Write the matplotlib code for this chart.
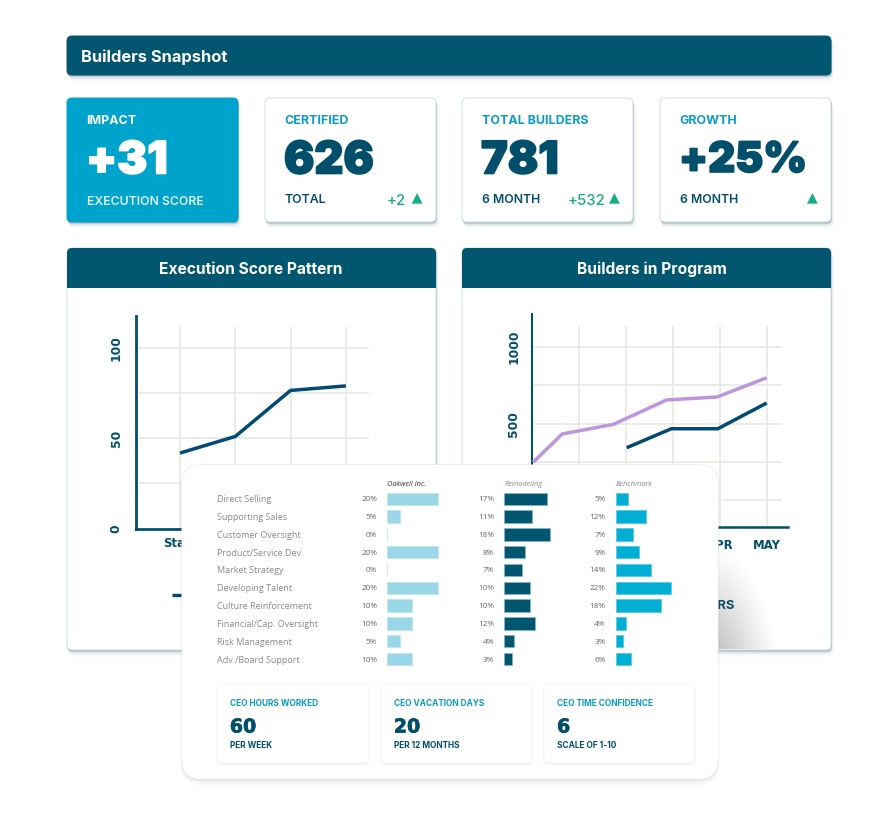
import numpy as np
import matplotlib
matplotlib.use("Agg")
import matplotlib.pyplot as plt
from matplotlib.patches import FancyBboxPatch, Rectangle, Polygon
import matplotlib.patheffects as pe

W, H = 888, 813
NAVY = "#02566F"; DARK = "#024F6B"; BLUE = "#00A3CC"; LABEL = "#0A9CC8"; GREEN = "#17AE85"
GRID = "#E9E9E3"; LINE = "#004A73"; PURPLE = "#BD95DF"; GREY = "#8A8A8A"
HEAD = "Inter"; NUM = "DejaVu Sans"

# ---------------- data ----------------
kpi_titles = ["IMPACT", "CERTIFIED", "TOTAL BUILDERS", "GROWTH"]
kpi_values = ["+31", "626", "781", "+25%"]
kpi_subs = ["EXECUTION SCORE", "TOTAL", "6 MONTH", "6 MONTH"]
kpi_deltas = ["", "+2", "+532", ""]

score_x = [0, 1, 2, 3]
score_labels = ["Start", "", "", ""]
score_values = [41.8, 51, 76.5, 79]

months_x = [1, 2, 3, 4, 5]
months = ["", "", "", "APR", "MAY"]
total_x = [0.03, 0.65, 1.74, 2.87, 3.94, 5.0]
total_values = [248, 433, 496, 655, 674, 800]
cert_x = [2.02, 2.97, 3.96, 5.0]
cert_values = [343, 467, 467, 635]

categories = ["Direct Selling", "Supporting Sales", "Customer Oversight", "Product/Service Dev.",
              "Market Strategy", "Developing Talent", "Culture Reinforcement",
              "Financial/Cap. Oversight", "Risk Management", "Adv./Board Support"]
oakwell = [20, 5, 0, 20, 0, 20, 10, 10, 5, 10]
remodeling = [17, 11, 18, 8, 7, 10, 10, 12, 4, 3]
benchmark = [5, 12, 7, 9, 14, 22, 18, 4, 3, 6]

ceo_titles = ["CEO HOURS WORKED", "CEO VACATION DAYS", "CEO TIME CONFIDENCE"]
ceo_values = ["60", "20", "6"]
ceo_subs = ["PER WEEK", "PER 12 MONTHS", "SCALE OF 1-10"]

# ---------------- helpers ----------------
fig = plt.figure(figsize=(W / 100, H / 100), dpi=100, facecolor="white")

def px_axes(x0, y0, x1, y1, z):
    ax = fig.add_axes([x0 / W, 1 - y1 / H, (x1 - x0) / W, (y1 - y0) / H], zorder=z)
    ax.patch.set_alpha(0)
    return ax

def overlay(z):
    ax = px_axes(0, 0, W, H, z)
    ax.set_xlim(0, W); ax.set_ylim(H, 0); ax.axis("off")
    return ax

def rrect(ax, x0, y0, x1, y1, r, fc, ec="none", lw=0, alpha=None, z=1):
    p = FancyBboxPatch((x0, y0), x1 - x0, y1 - y0, boxstyle=f"round,pad=0,rounding_size={r}",
                       fc=fc, ec=ec, lw=lw, alpha=alpha, zorder=z)
    ax.add_patch(p)
    return p

def card(ax, x0, y0, x1, y1, r=5, fc="white", ec="#CFE0E5", strong=True, z=1):
    if strong:
        for d, a in ((7, .025), (5, .04), (3.5, .07), (2.2, .16), (1.2, .30)):
            rrect(ax, x0 + d * .25, y0 + d, x1 + d * .45, y1 + d, r, "#3E6473", alpha=a, z=z)
    else:
        for d, a in ((3, .015), (2, .02), (1, .04)):
            rrect(ax, x0 - d * .3, y0 + d * .2, x1 + d * .3, y1 + d, r, "#404040", alpha=a, z=z)
    rrect(ax, x0, y0, x1, y1, r, fc, ec=ec, lw=.7, z=z + .1)

def tx(ax, x, y, s, size, color, ha="left", weight="bold", family=HEAD, style="normal", z=5, sp=0):
    t = ax.text(x, y, s, fontsize=size * .72, color=color, ha=ha, va="center_baseline", weight=weight,
                family=family, style=style, zorder=z)
    if sp:
        t.set_path_effects([pe.withStroke(linewidth=sp, foreground=color)])
    return t

# ---------------- base layer ----------------
base = overlay(0)
card(base, 67, 36, 831, 75, fc=NAVY, ec=NAVY)
tx(base, 80.5, 55.5, "Builders Snapshot", 16.5, "white")

xs = [(67, 238), (265, 436), (462, 633), (660, 831)]
tri_x = [None, 411.7, 609, 807]
delta_end = [None, 405.7, 605.5, None]
num_size = [45, 45, 45, 42]
for i, (x0, x1) in enumerate(xs):
    hot = i == 0
    card(base, x0, 98, x1, 222, fc=BLUE if hot else "white", ec=BLUE if hot else "#CFE0E5")
    tl = x0 + 20
    c1 = "white" if hot else LABEL
    c2 = "white" if hot else DARK
    tx(base, tl - .5, 119, kpi_titles[i], 12.4, c1)
    tx(base, tl - 1, 157, kpi_values[i], num_size[i], c2, family=HEAD, weight="black", sp=1.2)
    tx(base, tl - .5, 200.5 if hot else 198.7, kpi_subs[i], 12.3, "#DDF2F8" if hot else DARK, weight="semibold")
    if kpi_deltas[i]:
        tx(base, delta_end[i], 199, kpi_deltas[i], 15, GREEN, ha="right", weight="medium")
    if tri_x[i]:
        tx0 = tri_x[i]
        base.add_patch(Polygon([(tx0, 203.7), (tx0 + 10.8, 203.7), (tx0 + 5.4, 193)], fc=GREEN, ec="none", zorder=5))

for x0, x1, title, tcx in ((67, 436, "Execution Score Pattern", 250.5), (462, 831, "Builders in Program", 651.5)):
    card(base, x0, 248, x1, 650)
    rrect(base, x0, 248, x1, 280, 5, NAVY, z=2)
    base.add_patch(Rectangle((x0, 262), x1 - x0, 26, fc=NAVY, ec="none", zorder=2))
    tx(base, tcx, 268, title, 15.6, "white", ha="center")

# legend fragments visible beside the panel
base.plot([172, 182], [594.5, 594.5], color=LINE, lw=2.4, solid_capstyle="butt", zorder=3)
tx(base, 734.5, 604, "BUILDERS", 13, DARK, ha="right")

# ---------------- line charts ----------------
def style_axes(ax):
    for s in ("top", "right"):
        ax.spines[s].set_visible(False)
    for s in ("left", "bottom"):
        ax.spines[s].set_color(DARK)
    ax.tick_params(length=0, labelcolor=DARK)
    for t in ax.get_yticklabels():
        t.set_rotation(90); t.set_va("center"); t.set_fontsize(8.8); t.set_fontweight("bold"); t.set_family(NUM)
    for t in ax.get_xticklabels():
        t.set_fontsize(8.4); t.set_fontweight("bold"); t.set_family(NUM)

a1 = px_axes(136, 316, 369, 528.5, 1)
a1.set_ylim(0, (528.5 - 316) / 1.805)
a1.set_xlim((136 - 180) / 55.3, (369 - 180) / 55.3)
a1.hlines([25, 50, 75, 100], a1.get_xlim()[0] + .04, a1.get_xlim()[1], color=GRID, lw=1.2, zorder=1)
a1.vlines(score_x, 0, (528.5 - 327) / 1.805, color=GRID, lw=1.2, zorder=1)
a1.plot(score_x, score_values, color=LINE, lw=2.5, solid_capstyle="butt", solid_joinstyle="miter", zorder=3)
a1.set_xticks(score_x, score_labels)
a1.set_yticks([0, 50, 100], ["0", "50", "100"])
style_axes(a1)
a1.spines["left"].set_linewidth(2.0); a1.spines["bottom"].set_linewidth(2.0)
a1.tick_params(axis="y", pad=9.5); a1.tick_params(axis="x", pad=6)

sy = 76.6 / 500
a2 = px_axes(532.3, 314, 788, 527, 1)
a2.set_ylim(-(527 - 500.3) / sy, (500.3 - 314) / sy)
a2.set_xlim(1 + (532.3 - 578.7) / 47, 1 + (788 - 578.7) / 47)
a2.hlines([0, 250, 500, 750, 1000], a2.get_xlim()[0] + .03, 1 + (781.7 - 578.7) / 47, color=GRID, lw=1.2, zorder=1)
a2.vlines(months_x, a2.get_ylim()[0], (500.3 - 325.7) / sy, color=GRID, lw=1.2, zorder=1)
a2.plot(total_x, total_values, color=PURPLE, lw=2.5, solid_capstyle="butt", solid_joinstyle="miter", zorder=3)
a2.plot(cert_x, cert_values, color=LINE, lw=2.5, solid_capstyle="butt", solid_joinstyle="miter", zorder=3)
a2.set_xticks(months_x, months)
a2.set_yticks([500, 1000], ["500", "1000"])
style_axes(a2)
a2.spines["left"].set_linewidth(1.5); a2.spines["bottom"].set_linewidth(1.8)
a2.tick_params(axis="y", pad=8.5); a2.tick_params(axis="x", pad=8.5)

# ---------------- front panel ----------------
front = overlay(2)
# soft shadow falling on the right-hand card
gx = np.linspace(718, 830, 112); gy = np.linspace(500, 649, 150)
GX, GY = np.meshgrid(gx, gy)
d = np.hypot((GX - 705) / 75, (GY - 690) / 150)
alpha = .5 * np.clip(1 - d, 0, 1) ** 1.2
rgba = np.zeros(GX.shape + (4,)); rgba[..., :3] = .25; rgba[..., 3] = alpha
front.imshow(rgba, extent=(718, 830, 649, 500), aspect="auto", zorder=.5, interpolation="bilinear")
front.set_xlim(0, W); front.set_ylim(H, 0)

for dd, a in ((7, .015), (5, .02), (3, .03), (1.5, .07)):
    rrect(front, 182 - dd * .2, 465 - dd * .1, 718 + dd * .2, 779 + dd, 20, "#303030", alpha=a, z=1)
rrect(front, 181.5, 464.5, 718.5, 779.5, 20, "#EFEFEF", z=1.1)
rrect(front, 182, 465, 718, 779, 20, "white", z=1.2)

ys = [498.7 + 17.82 * i for i in range(10)]
for y, cat in zip(ys, categories):
    tx(front, 217, y, cat, 9.0, GREY, weight="normal", family="Open Sans")

colh = [(387, "Oakwell Inc.", "#333333"), (504.3, "Remodeling", "#8A8A8A"), (615.7, "Benchmark", "#8A8A8A")]
for x, s, c in colh:
    tx(front, x, 483, s, 7.4, c, weight="normal", family="Open Sans", style="italic")

scale = 2.535
series = [(387, oakwell, "#9AD7E8", 377, "#BEE6F0"),
          (504.3, remodeling, NAVY, 494, "#7FB6C8"),
          (615.7, benchmark, "#00AFD3", 605.5, "#55CBE3")]
for x0, vals, col, lx, ec in series:
    ax = px_axes(x0, 489.8, x0 + 24 * scale, 668.2, 3)
    ax.set_xlim(0, 24)
    ax.set_ylim(668.2, 489.8)
    ax.barh(ys, vals, height=12.4, color=col, edgecolor=ec, linewidth=.6)
    ax.axis("off")
    for y, v in zip(ys, vals):
        tx(front, lx, y, f"{v}%", 8.2, "#666666", ha="right", weight="normal", family="Open Sans")

cx = [(216.8, 368.4), (380.8, 532), (544, 695)]
for i, (x0, x1) in enumerate(cx):
    card(front, x0, 684, x1, 763, r=4, ec="#F6F6F6", strong=False, z=1.5)
    tl = x0 + 13
    tx(front, tl, 702.7, ceo_titles[i], 8.3, LABEL, family=HEAD)
    tx(front, tl, 725, ceo_values[i], 19, DARK, family=NUM, sp=.5)
    tx(front, tl, 744.7, ceo_subs[i], 8.3, DARK, family=HEAD)

fig.savefig("out.png", dpi=100)
